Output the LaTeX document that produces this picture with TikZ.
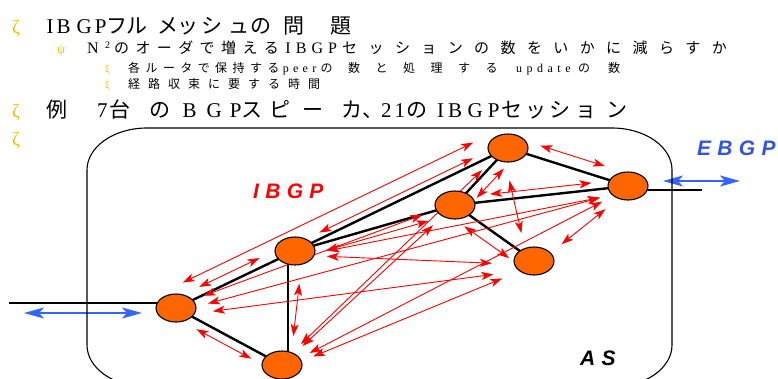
\documentclass[tikz,border=0pt]{standalone}
\usepackage{fontspec}
\usetikzlibrary{arrows.meta,shapes.geometric,calc}
\setmainfont{Liberation Serif}
\newfontfamily\grf{Liberation Serif}
\newfontfamily\ltf{Liberation Serif}
\newfontfamily\jpf{Noto Sans CJK JP}
\newfontfamily\lblf[LetterSpace=30]{Liberation Sans}
\makeatletter
\def\spc@end{\spc@end@}
\def\spc#1#2{\def\spc@k{#1}\spc@loop#2\spc@end}
\def\spc@loop#1{\ifx#1\spc@end\else#1\kern\spc@k\relax\expandafter\spc@loop\fi}
\makeatother
\newcommand\kp[1]{\kern#1pt\relax}
\definecolor{bul}{RGB}{242,190,0}
\definecolor{rtorange}{RGB}{255,102,0}
\definecolor{ibred}{RGB}{255,0,0}
\definecolor{ebblue}{RGB}{51,85,221}
\definecolor{arblue}{RGB}{51,102,255}
\pgfdeclarelayer{bg}
\pgfdeclarelayer{mid}
\pgfsetlayers{bg,mid,main}
\tikzset{
  rtr/.style={ellipse, draw=black, line width=1.1pt, fill=rtorange, minimum width=40pt, minimum height=28pt, inner sep=0pt},
  link/.style={line width=2.4pt, black},
  redarr/.style={draw=ibred, line width=0.9pt, {Stealth[length=12pt,width=8pt,inset=3pt]}-{Stealth[length=12pt,width=8pt,inset=3pt]}},
  bluearr/.style={draw=arblue, line width=2.2pt, {Stealth[length=20pt,width=11pt,inset=5pt]}-{Stealth[length=20pt,width=11pt,inset=5pt]}},
  bulletL/.style={anchor=base west, text=bul, font=\grf\fontsize{19}{19}\selectfont, inner sep=0pt},
  bulletM/.style={anchor=base west, text=bul, font=\grf\fontsize{13}{13}\selectfont, inner sep=0pt},
  bulletS/.style={anchor=base west, text=bul, font=\grf\fontsize{10}{10}\selectfont, inner sep=0pt},
  txt/.style={anchor=base west, inner sep=0pt, text=black},
  lbl/.style={anchor=base west, inner sep=0pt, font=\lblf\bfseries\itshape\fontsize{21}{21}\selectfont},
}
% #1,#2 routers; #3 sideways offset; #4,#5 distance kept clear at #1 and #2
\newcommand\ibgplink[5]{\draw[redarr] ($(#1)!#4!(#2)!#3!90:(#2)$) -- ($(#2)!#5!(#1)!#3!-90:(#1)$);}
\begin{document}
\begin{tikzpicture}[x=1pt,y=-1pt]
\useasboundingbox (0,0) rectangle (778,378);
\clip (0,0) rectangle (778,378);
% ---- text ----
\node[bulletL] (b1) at (12,33) {ζ};
\node[txt, font=\fontsize{21}{21}\selectfont] (t1) at (46.5,33)
  {\ltf I\kp{3}B\kp{6}G\kp{3}P\jpf フ\kp{-1}ル\kp{10}メ\kp{-1}ッ\kp{3}シ\kp{6}ュ\kp{1}の\kp{12}問\kp{26}題};
\node[bulletM] (b2) at (57,53) {ψ};
\node[txt] (t2) at (87,53)
  {\fontsize{16}{16}\selectfont\ltf N\kp{6.4}\raisebox{5pt}{\fontsize{10}{10}\selectfont 2}\kp{4}%
   {\jpf\fontsize{15}{15}\selectfont\spc{6.4pt}{のオーダで増える}}%
   \spc{5.1pt}{IBGP}%
   {\jpf\fontsize{15}{15}\selectfont\spc{11.4pt}{セッションの数をいかに減らすか}}};
\node[bulletS] (b3) at (105,72) {ξ};
\node[txt, font=\fontsize{12}{12}\selectfont] (t3) at (128,72)
  {{\jpf\spc{5.4pt}{各ルータで保持する}}\kp{-2}\spc{4.3pt}{peer}%
   {\jpf\spc{15.5pt}{の数と処理する}}\kp{3}\spc{4.5pt}{update}\kp{3}%
   {\jpf\spc{18pt}{の数}}};
\node[bulletS] (b4) at (105,88) {ξ};
\node[txt, font=\fontsize{12}{12}\selectfont] (t4) at (128,88)
  {{\jpf\spc{8pt}{経路収束に要する時間}}};
\node[bulletL] (b5) at (12,117) {ζ};
\node[txt, font=\fontsize{21}{21}\selectfont] (t5) at (46,117)
  {{\jpf 例}\kp{30}7\kp{1.5}{\jpf 台\kp{19}の}\kp{12.5}B\kp{10}G\kp{8}P%
   {\jpf ス\kp{7}ピ\kp{12}ー\kp{18}カ、}\kp{-2}2\kp{3}1\kp{1.5}{\jpf の}\kp{9.5}I\kp{4}B\kp{5.5}G\kp{5}P\kp{2}%
   {\jpf セ\kp{3}ッ\kp{3}シ\kp{5}ョ\kp{10}ン}};
\node[bulletL] (b6) at (12,145) {ζ};
% ---- AS box ----
\draw[line width=1.1pt] (147,128) -- (612,128)
  arc[start angle=90,end angle=0,x radius=60pt,y radius=42pt] -- (672,345)
  arc[start angle=0,end angle=-90,x radius=60pt,y radius=42pt] -- (147,387)
  arc[start angle=270,end angle=180,x radius=60pt,y radius=42pt] -- (87,170)
  arc[start angle=180,end angle=90,x radius=60pt,y radius=42pt] -- cycle;
% ---- routers ----
\node[rtr] (A) at (176,308) {};
\node[rtr] (B) at (295,251) {};
\node[rtr] (C) at (282,365) {};
\node[rtr] (D) at (508,148) {};
\node[rtr] (E) at (455,205) {};
\node[rtr] (F) at (628,186) {};
\node[rtr] (G) at (534,261) {};
\coordinate (Ain) at (9,303);
\coordinate (Fout) at (702,190);
\coordinate (bl1) at (24,313);
\coordinate (bl2) at (142,313);
\coordinate (br1) at (663,181);
\coordinate (br2) at (740,181);
% ---- labels ----
\node[lbl, text=ibred] (libgp) at (253,198) {IBGP};
\node[lbl, text=ebblue] (lebgp) at (697,155) {EBGP};
\node[lbl, text=black] (las) at (580,365) {AS};
% ---- physical links ----
\begin{pgfonlayer}{bg}
\draw[link] (Ain) -- (Ain -| A.center);
\draw[link] (A.center) -- (B.center);
\draw[link] (A.center) -- (C.center);
\draw[link] ([xshift=-7pt]B.center) -- ([xshift=6pt]C.center);
\draw[link] (B.center) -- (D.center);
\draw[link] (B.center) -- (E.center);
\draw[link] (D.center) -- (E.center);
\draw[link] (D.center) -- (F.center);
\draw[link] (E.center) -- (F.center);
\draw[link] (E.center) -- (G.center);
\draw[link] ([yshift=-4pt]F.center) -- (Fout);
\end{pgfonlayer}
% ---- IBGP full mesh ----
\begin{pgfonlayer}{mid}
\ibgplink{A}{B}{9pt}{30pt}{35pt}
\ibgplink{A}{C}{-9pt}{28pt}{30pt}
\ibgplink{B}{C}{8pt}{32pt}{30pt}
\ibgplink{D}{E}{11pt}{18pt}{20pt}
\ibgplink{D}{F}{12pt}{30pt}{28pt}
\ibgplink{E}{F}{7pt}{36pt}{36pt}
\ibgplink{E}{G}{-12pt}{20pt}{22pt}
\ibgplink{B}{D}{6pt}{30pt}{36pt}
\ibgplink{B}{E}{-8pt}{30pt}{30pt}
\ibgplink{A}{D}{20pt}{17pt}{29pt}
\ibgplink{A}{E}{2pt}{30pt}{34pt}
\ibgplink{A}{F}{-4pt}{32pt}{30pt}
\ibgplink{A}{G}{-8pt}{36pt}{42pt}
\ibgplink{B}{F}{-6pt}{32pt}{30pt}
\ibgplink{B}{G}{-4pt}{32pt}{42pt}
\ibgplink{C}{D}{2pt}{28pt}{34pt}
\ibgplink{C}{E}{0pt}{28pt}{30pt}
\ibgplink{C}{F}{-2pt}{30pt}{30pt}
\ibgplink{C}{G}{-4pt}{32pt}{36pt}
\ibgplink{D}{G}{-6pt}{32pt}{30pt}
\ibgplink{F}{G}{4pt}{32pt}{32pt}
\draw[bluearr] (bl1) -- (bl2);
\draw[bluearr] (br1) -- (br2);
\end{pgfonlayer}
\end{tikzpicture}
\end{document}
